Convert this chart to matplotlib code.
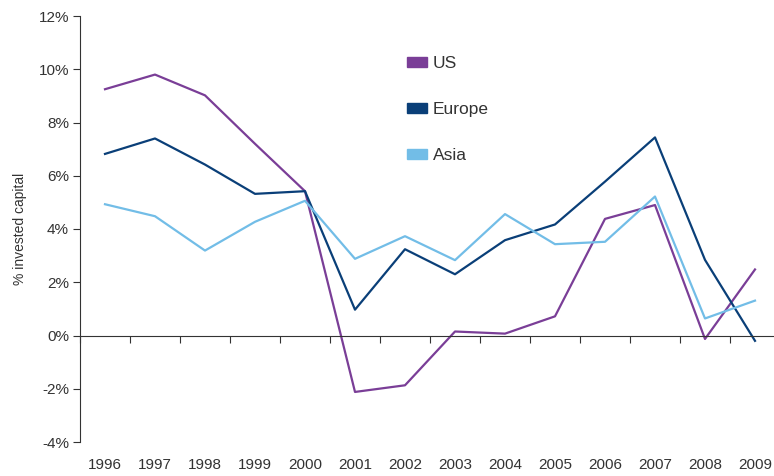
import matplotlib
matplotlib.use("Agg")
import matplotlib.pyplot as plt
from matplotlib.patches import Patch

years = ["1996", "1997", "1998", "1999", "2000", "2001", "2002",
         "2003", "2004", "2005", "2006", "2007", "2008", "2009"]
us     = [9.25, 9.8, 9.02, 7.2, 5.42, -2.12, -1.87, 0.15, 0.07, 0.72, 4.38, 4.9, -0.13, 2.48]
europe = [6.82, 7.4, 6.42, 5.32, 5.42, 0.97, 3.24, 2.3, 3.58, 4.17, 5.78, 7.44, 2.84, -0.2]
asia   = [4.93, 4.48, 3.19, 4.27, 5.06, 2.88, 3.73, 2.83, 4.56, 3.43, 3.52, 5.22, 0.64, 1.31]
yticks = [-4, -2, 0, 2, 4, 6, 8, 10, 12]

C_US, C_EU, C_AS = "#7A3E97", "#0A3F78", "#72BDE7"
TXT = "#333333"
plt.rcParams["font.family"] = ["Liberation Sans", "DejaVu Sans"]

fig = plt.figure(figsize=(7.74, 4.76), dpi=100)
ax = fig.add_axes([80 / 774, 34 / 476, 700 / 774, 426 / 476])
x = list(range(len(years)))

ax.plot(x, us, color=C_US, lw=1.6)
ax.plot(x, europe, color=C_EU, lw=1.6)
ax.plot(x, asia, color=C_AS, lw=1.6)

ax.set_xlim(-0.5, 13.5)
ax.set_ylim(-4, 12)
ax.set_yticks(yticks)
ax.set_yticklabels([f"{v}%" for v in yticks], fontsize=11, color=TXT)
ax.tick_params(axis="y", direction="out", length=5, width=0.8, color=TXT, pad=3)

for s in ["top", "right"]:
    ax.spines[s].set_visible(False)
ax.spines["left"].set_color(TXT)
ax.spines["left"].set_linewidth(0.8)
ax.spines["bottom"].set_position(("data", 0))
ax.spines["bottom"].set_color(TXT)
ax.spines["bottom"].set_linewidth(0.8)
ax.set_xticks([i - 0.5 for i in range(len(years) + 1)])
ax.set_xticklabels([])
ax.tick_params(axis="x", direction="out", length=5, width=0.8, color=TXT)

for i, yr in enumerate(years):
    ax.text(i, -4.88, yr, ha="center", va="center", fontsize=11,
            color=TXT, clip_on=False)

ax.set_ylabel("% invested capital", fontsize=10, color=TXT, labelpad=8)

handles = [Patch(color=C_US, label="US"), Patch(color=C_EU, label="Europe"),
           Patch(color=C_AS, label="Asia")]
leg = ax.legend(handles=handles, loc="upper left", bbox_to_anchor=(0.467, 0.905),
                frameon=False, fontsize=12.5, handlelength=1.15, handleheight=0.5,
                labelspacing=1.78, handletextpad=0.35, borderpad=0, borderaxespad=0)
for t in leg.get_texts():
    t.set_color(TXT)

fig.savefig("out.png", dpi=100)
